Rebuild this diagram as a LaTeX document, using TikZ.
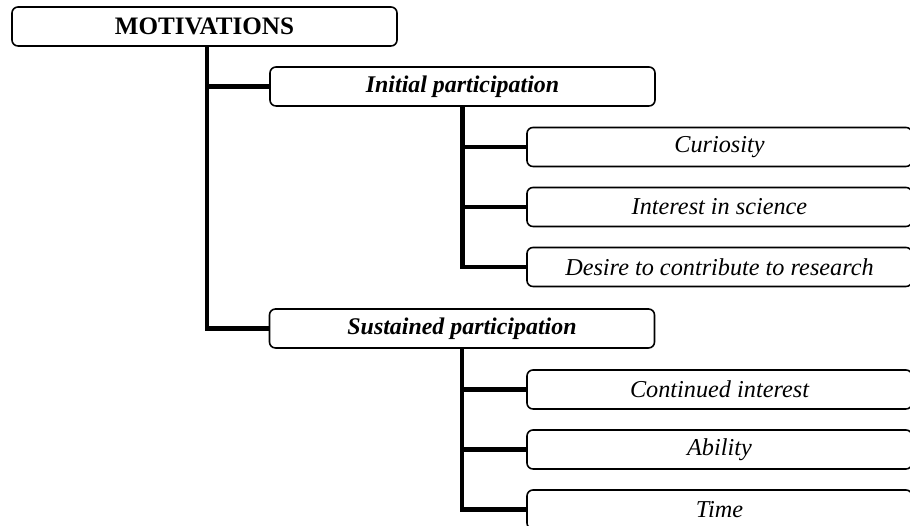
\documentclass[tikz,border=0pt]{standalone}
\usepackage{fontspec}
\setmainfont{Liberation Serif}
\usepackage{tikz}
\usetikzlibrary{positioning, calc}

\begin{document}
\begin{tikzpicture}[
  box/.style={draw, rounded corners=0.12cm, line width=0.9pt, minimum width=7.7cm,
    minimum height=0.78cm, inner sep=0pt, font=\fontsize{13.8}{16}\selectfont},
  link/.style={line width=2.8pt}
]
\clip (0,0) rectangle (18.2,-10.52);

% Root
\node[box, font=\fontsize{14.3}{16}\selectfont\bfseries] (motiv) at (4.09,-0.53) {MOTIVATIONS};

% Two kinds of participation
\node[box, font=\fontsize{13.6}{16}\selectfont\bfseries\itshape] (initial) at (9.25,-1.73) {Initial participation};
\node[box, font=\fontsize{13.6}{16}\selectfont\bfseries\itshape] (sustained) at (9.24,-6.57) {Sustained participation};

% Reasons
\node[box, font=\fontsize{13.8}{16}\selectfont\itshape] (curiosity) at (14.39,-2.94) {Curiosity};
\node[box, font=\fontsize{13.8}{16}\selectfont\itshape] (science) at (14.39,-4.14) {Interest in science};
\node[box, font=\fontsize{13.8}{16}\selectfont\itshape] (desire) at (14.39,-5.34) {Desire to contribute to research};
\node[box, font=\fontsize{13.8}{16}\selectfont\itshape] (continued) at (14.39,-7.79) {Continued interest};
\node[box, font=\fontsize{13.8}{16}\selectfont\itshape] (ability) at (14.39,-8.99) {Ability};
\node[box, font=\fontsize{13.8}{16}\selectfont\itshape] (time) at (14.39,-10.19) {Time};

% Connectors
\draw[link] ([xshift=1.4pt]motiv.south) |- (initial.west);
\draw[link] ([xshift=1.4pt]motiv.south) |- (sustained.west);
\draw[link] (initial.south) |- (curiosity.west);
\draw[link] (initial.south) |- (science.west);
\draw[link] (initial.south) |- (desire.west);
\draw[link] (sustained.south) |- (continued.west);
\draw[link] (sustained.south) |- (ability.west);
\draw[link] (sustained.south) |- (time.west);
\end{tikzpicture}
\end{document}
